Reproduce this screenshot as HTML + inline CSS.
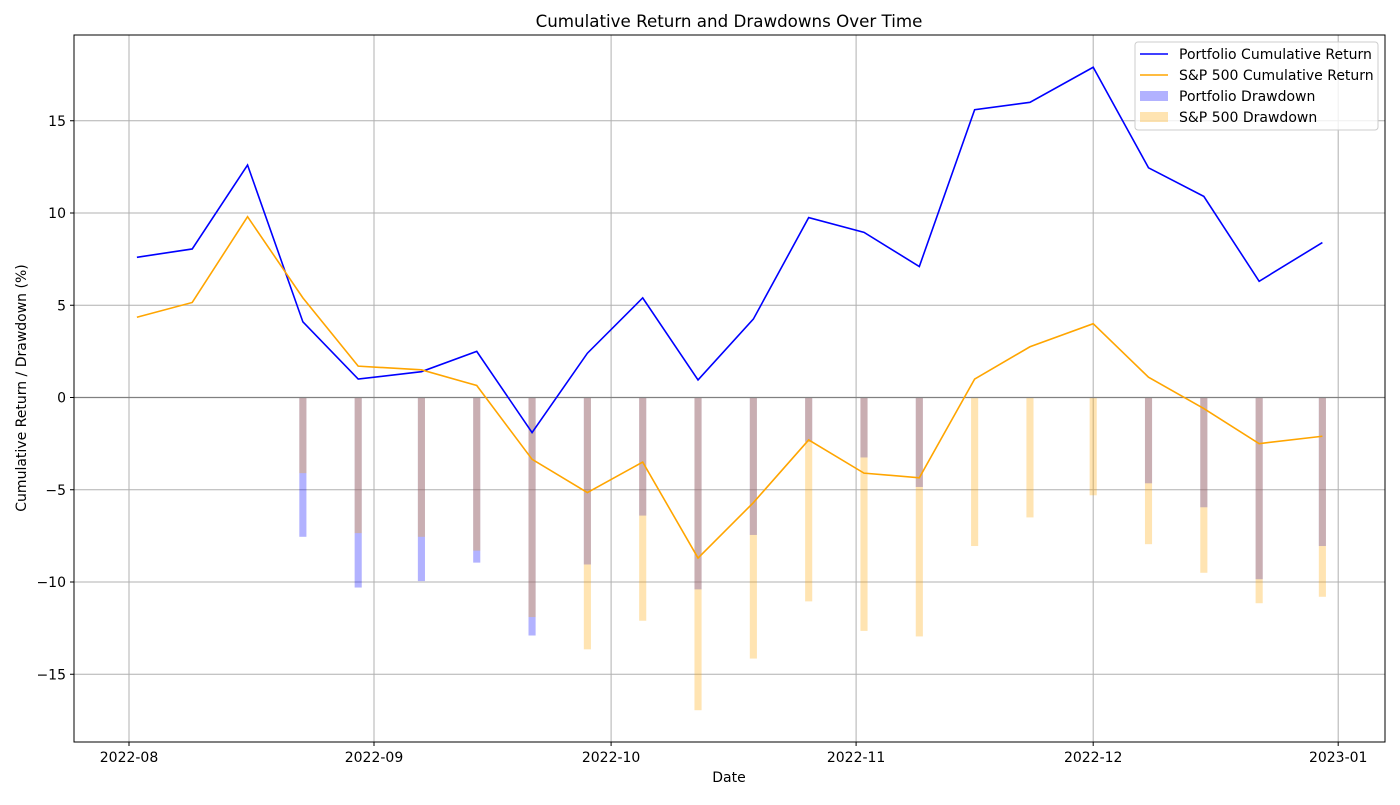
<!DOCTYPE html>
<html><head><meta charset="utf-8"><style>
body{margin:0;background:#fff;}
svg{font-family:"DejaVu Sans","Liberation Sans",sans-serif;}
</style></head><body>
<svg id="chart" width="1400" height="800" xmlns="http://www.w3.org/2000/svg">
<rect width="1400" height="800" fill="#fff"/>
<g id="grid"></g>
<g id="bars"></g>
<g id="lines"></g>
<g id="axes"></g>
</svg>
<script>
const dayOffsets=[1,8,15,22,29,37,44,51,58,65,72,79,86,93,100,107,114,122,129,136,143,151];
const portfolioReturn=[7.6,8.05,12.6,4.1,1.0,1.4,2.5,-1.9,2.4,5.4,0.95,4.25,9.75,8.95,7.1,15.6,16.0,17.9,12.45,10.9,6.3,8.4];
const spReturn=[4.35,5.15,9.8,5.4,1.7,1.5,0.65,-3.35,-5.15,-3.5,-8.7,-5.7,-2.3,-4.1,-4.35,1.0,2.75,4.0,1.1,-0.6,-2.5,-2.1];
const portfolioDD=[0,0,0,-7.55,-10.3,-9.95,-8.95,-12.9,-9.05,-6.4,-10.4,-7.45,-2.4,-3.25,-4.85,0,0,0,-4.65,-5.95,-9.85,-8.05];
const spDD=[0,0,0,-4.1,-7.35,-7.55,-8.3,-11.9,-13.65,-12.1,-16.95,-14.15,-11.05,-12.65,-12.95,-8.05,-6.5,-5.3,-7.95,-9.5,-11.15,-10.8];
const yTicks=[-15,-10,-5,0,5,10,15];
const xTickDays=[0,31,61,92,122,153];
const xTickLabels=["2022-08","2022-09","2022-10","2022-11","2022-12","2023-01"];

const L=74,R=1385,T=35,B=742;
const X=d=>129+d*7.9032;
const Y=v=>397.5-v*18.45;
const NS="http://www.w3.org/2000/svg";
function mk(tag,attrs,parent,text){const e=document.createElementNS(NS,tag);for(const k in attrs)e.setAttribute(k,attrs[k]);if(text!==undefined)e.textContent=text;document.getElementById(parent).appendChild(e);return e;}

yTicks.forEach((v,i)=>{
  const g=mk('line',{x1:L,x2:R,y1:Y(v),y2:Y(v),stroke:'#b0b0b0','stroke-width':1},'grid');
  
  
  mk('line',{x1:L-4,x2:L,y1:Y(v),y2:Y(v),stroke:'#000'},'axes');
  const t=mk('text',{x:L-8,y:Y(v)+5,'text-anchor':'end','font-size':14},'axes',v<0?'\u2212'+Math.abs(v):String(v));
  
  
});
xTickDays.forEach((d,i)=>{
  const g=mk('line',{x1:X(d),x2:X(d),y1:T,y2:B,stroke:'#b0b0b0','stroke-width':1},'grid');
  
  
  mk('line',{x1:X(d),x2:X(d),y1:B,y2:B+4,stroke:'#000'},'axes');
  const t=mk('text',{x:X(d),y:B+20,'text-anchor':'middle','font-size':14},'axes',xTickLabels[i]);
  
  
});
const bw=0.9*7.9032;
dayOffsets.forEach((d,i)=>{
  [[portfolioDD[i],'#0000ff','portfolio-drawdown-bar'],[spDD[i],'#ffa500','sp500-drawdown-bar']].forEach(([v,c,n])=>{
    if(v===0)return;
    const r=mk('rect',{x:X(d)-bw/2,y:Y(0),width:bw,height:Y(v)-Y(0),fill:c,'fill-opacity':0.3},'bars');
    
    
  });
});
const z=mk('line',{x1:L,x2:R,y1:Y(0),y2:Y(0),stroke:'#808080','stroke-width':1.2},'lines');


[[portfolioReturn,'#0000ff','portfolio-line'],[spReturn,'#ffa500','sp500-line']].forEach(([arr,c,n])=>{
  const p=mk('polyline',{points:arr.map((v,i)=>X(dayOffsets[i])+','+Y(v)).join(' '),fill:'none',stroke:c,'stroke-width':1.6},'lines');
  
  
});
</script>
<svg width="1400" height="800" style="position:absolute;left:0;top:0" xmlns="http://www.w3.org/2000/svg">
<rect x="74" y="35" width="1311" height="707" fill="none" stroke="#000" stroke-width="1"/>
<text x="729" y="27" text-anchor="middle" font-size="16.7" font-family="DejaVu Sans,Liberation Sans,sans-serif">Cumulative Return and Drawdowns Over Time</text>
<text x="729" y="782" text-anchor="middle" font-size="14" font-family="DejaVu Sans,Liberation Sans,sans-serif">Date</text>
<text x="26" y="388" text-anchor="middle" font-size="14" font-family="DejaVu Sans,Liberation Sans,sans-serif" transform="rotate(-90 26 388)">Cumulative Return / Drawdown (%)</text>
<g font-family="DejaVu Sans,Liberation Sans,sans-serif" font-size="14">
<rect x="1135" y="42" width="243" height="88" rx="3" fill="#fff" fill-opacity="0.8" stroke="#ccc"/>
<line x1="1140" x2="1168" y1="54" y2="54" stroke="#0000ff" stroke-width="1.6"/>
<text x="1179" y="59">Portfolio Cumulative Return</text>
<line x1="1140" x2="1168" y1="75" y2="75" stroke="#ffa500" stroke-width="1.6"/>
<text x="1179" y="80">S&amp;P 500 Cumulative Return</text>
<rect x="1140" y="91" width="28" height="10" fill="#0000ff" fill-opacity="0.3"/>
<text x="1179" y="101">Portfolio Drawdown</text>
<rect x="1140" y="112" width="28" height="10" fill="#ffa500" fill-opacity="0.3"/>
<text x="1179" y="122">S&amp;P 500 Drawdown</text>
</g>
</svg>
</body></html>
